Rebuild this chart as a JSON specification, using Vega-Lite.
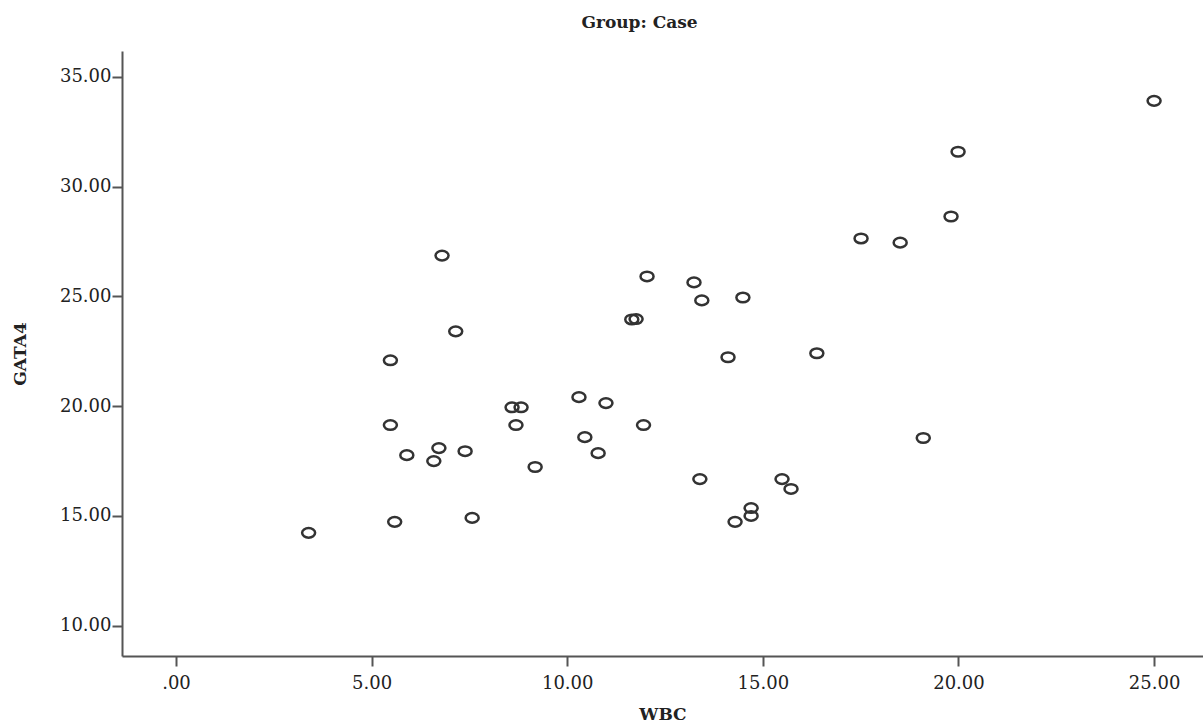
{
  "$schema": "https://vega.github.io/schema/vega-lite/v6.json",
  "width": 1081,
  "height": 605,
  "autosize": {"type": "none"},
  "padding": {"left": 122, "top": 51, "right": 0, "bottom": 70},
  "background": "white",
  "title": {
    "text": "Group: Case",
    "anchor": "middle",
    "dx": -23,
    "dy": 19,
    "offset": 25,
    "baseline": "alphabetic",
    "font": "DejaVu Serif",
    "fontSize": 17,
    "fontWeight": "bold",
    "color": "#222222"
  },
  "config": {
    "view": {"stroke": null},
    "axis": {
      "grid": false,
      "domainColor": "#555555",
      "domainWidth": 2,
      "tickColor": "#555555",
      "tickWidth": 2,
      "tickSize": 10,
      "labelFont": "DejaVu Serif",
      "labelFontSize": 18,
      "labelColor": "#222222",
      "titleFont": "DejaVu Serif",
      "titleFontSize": 17,
      "titleFontWeight": "bold",
      "titleColor": "#222222"
    }
  },
  "data": {
    "values": [
      {"WBC": 3.39, "GATA4": 14.23},
      {"WBC": 5.48, "GATA4": 22.09},
      {"WBC": 5.48, "GATA4": 19.14},
      {"WBC": 5.59, "GATA4": 14.73},
      {"WBC": 5.90, "GATA4": 17.77},
      {"WBC": 6.59, "GATA4": 17.50},
      {"WBC": 6.72, "GATA4": 18.09},
      {"WBC": 6.80, "GATA4": 26.86},
      {"WBC": 7.15, "GATA4": 23.41},
      {"WBC": 7.39, "GATA4": 17.95},
      {"WBC": 7.57, "GATA4": 14.91},
      {"WBC": 8.59, "GATA4": 19.95},
      {"WBC": 8.82, "GATA4": 19.95},
      {"WBC": 8.69, "GATA4": 19.14},
      {"WBC": 9.18, "GATA4": 17.23},
      {"WBC": 10.30, "GATA4": 20.41},
      {"WBC": 10.45, "GATA4": 18.59},
      {"WBC": 10.79, "GATA4": 17.86},
      {"WBC": 10.99, "GATA4": 20.14},
      {"WBC": 11.95, "GATA4": 19.14},
      {"WBC": 12.04, "GATA4": 25.91},
      {"WBC": 11.65, "GATA4": 23.95},
      {"WBC": 11.76, "GATA4": 23.97},
      {"WBC": 13.39, "GATA4": 16.68},
      {"WBC": 13.24, "GATA4": 25.64},
      {"WBC": 13.44, "GATA4": 24.82},
      {"WBC": 14.49, "GATA4": 24.95},
      {"WBC": 14.11, "GATA4": 22.23},
      {"WBC": 14.29, "GATA4": 14.73},
      {"WBC": 14.70, "GATA4": 15.36},
      {"WBC": 14.70, "GATA4": 15.00},
      {"WBC": 15.49, "GATA4": 16.68},
      {"WBC": 15.72, "GATA4": 16.23},
      {"WBC": 16.38, "GATA4": 22.41},
      {"WBC": 17.51, "GATA4": 27.64},
      {"WBC": 18.51, "GATA4": 27.45},
      {"WBC": 19.10, "GATA4": 18.55},
      {"WBC": 19.81, "GATA4": 28.64},
      {"WBC": 19.99, "GATA4": 31.59},
      {"WBC": 25.00, "GATA4": 33.91}
    ]
  },
  "mark": {
    "type": "point",
    "shape": "M-1,0A1,0.74 0 1,1 1,0A1,0.74 0 1,1 -1,0Z",
    "size": 169,
    "filled": false,
    "stroke": "#333333",
    "strokeWidth": 2.5,
    "opacity": 1
  },
  "encoding": {
    "x": {
      "field": "WBC",
      "type": "quantitative",
      "scale": {"domain": [-1.38, 26.25], "nice": false, "zero": false},
      "axis": {
        "title": "WBC",
        "values": [0, 5, 10, 15, 20, 25],
        "labelExpr": "datum.value == 0 ? '.00' : format(datum.value, '.2f')",
        "labelPadding": 8,
        "titlePadding": 14
      }
    },
    "y": {
      "field": "GATA4",
      "type": "quantitative",
      "scale": {"domain": [8.62, 36.18], "nice": false, "zero": false},
      "axis": {
        "title": "GATA4",
        "values": [10, 15, 20, 25, 30, 35],
        "format": ".2f",
        "labelPadding": 1,
        "titlePadding": 30
      }
    }
  }
}
